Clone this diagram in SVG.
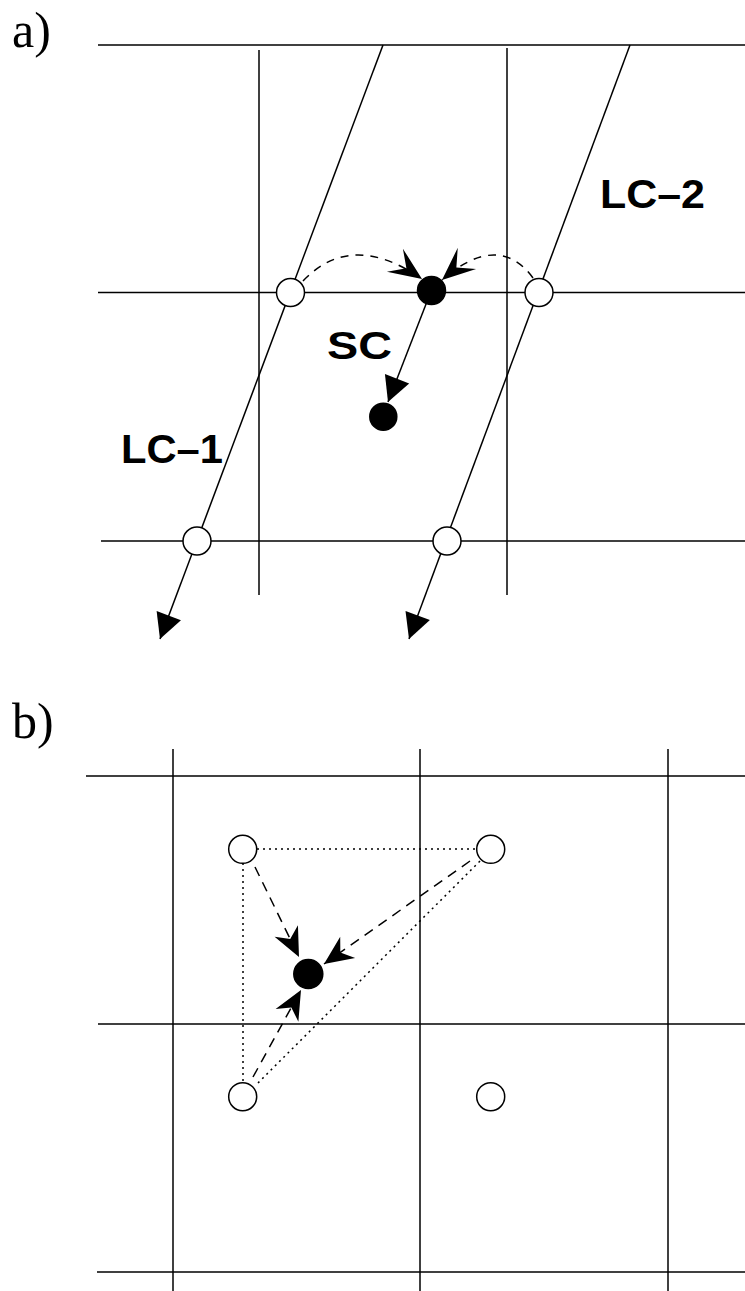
<svg xmlns="http://www.w3.org/2000/svg" width="745" height="1291" viewBox="0 0 745 1291">
<style>
.ln{stroke:#000;stroke-width:1.5;fill:none}
.dash{stroke:#000;stroke-width:1.5;fill:none;stroke-dasharray:8 7}
.dash2{stroke:#000;stroke-width:1.5;fill:none;stroke-dasharray:10 7}
.dot{stroke:#000;stroke-width:1.5;fill:none;stroke-dasharray:2 4}
.open{fill:#fff;stroke:#000;stroke-width:1.5}
.full{fill:#000;stroke:#000;stroke-width:1.5}
.lab{font-family:"Liberation Sans",Arial,sans-serif;font-weight:bold;fill:#000}
.part{font-family:"Liberation Serif","Times New Roman",serif;fill:#000;font-size:50px}
</style>
<defs>
<marker id="notchA" markerUnits="userSpaceOnUse" viewBox="-34 -15 35 30" markerWidth="35" markerHeight="30" refX="0" refY="0" orient="auto" overflow="visible">
<path d="M0,0 L-33,-14 L-19,0 L-33,14 Z" fill="#000"/>
</marker>
<marker id="notchB" markerUnits="userSpaceOnUse" viewBox="-31 -14 32 28" markerWidth="32" markerHeight="28" refX="0" refY="0" orient="auto" overflow="visible">
<path d="M0,0 L-29,-13 L-20,0 L-29,13 Z" fill="#000"/>
</marker>
<marker id="tri" markerUnits="userSpaceOnUse" viewBox="-27 -14 28 28" markerWidth="28" markerHeight="28" refX="0" refY="0" orient="auto" overflow="visible">
<path d="M0,0 L-25,-13 L-25,13 Z" fill="#000"/>
</marker>
</defs>

<g id="grid-a">
<line class="ln" x1="98" y1="45" x2="745" y2="45"/>
<line class="ln" x1="98" y1="292.5" x2="745" y2="292.5"/>
<line class="ln" x1="101" y1="541" x2="745" y2="541"/>
<line class="ln" x1="259" y1="50" x2="259" y2="595"/>
<line class="ln" x1="507" y1="48" x2="507" y2="595"/>
</g>

<g id="connectors">
<line class="ln" x1="383" y1="45" x2="160" y2="639" marker-end="url(#tri)"/>
<line class="ln" x1="630" y1="45" x2="409" y2="639" marker-end="url(#tri)"/>
<line class="ln" x1="431.5" y1="290" x2="388" y2="402" marker-end="url(#tri)"/>
<path class="dash" d="M303,281 Q351.5,230 422,279" marker-end="url(#notchA)"/>
<path class="dash" d="M533,278 Q498.5,231 442,280" marker-end="url(#notchA)"/>
<line class="dot" x1="257" y1="849" x2="477" y2="849"/>
<line class="dot" x1="243" y1="863" x2="243" y2="1082"/>
<line class="dot" x1="480" y1="861" x2="258" y2="1083"/>
<line class="dash2" x1="255" y1="867" x2="299" y2="957" marker-end="url(#notchB)"/>
<line class="dash2" x1="470" y1="861" x2="324" y2="964" marker-end="url(#notchB)"/>
<line class="dash2" x1="253" y1="1077" x2="301" y2="990" marker-end="url(#notchB)"/>
</g>

<g id="lc1-top"><circle class="open" cx="290.5" cy="292.5" r="14"/></g>
<g id="lc1-bottom"><circle class="open" cx="197" cy="541" r="14"/></g>
<g id="lc2-top"><circle class="open" cx="539" cy="292.5" r="14"/></g>
<g id="lc2-bottom"><circle class="open" cx="447" cy="541" r="14"/></g>
<g id="sc-start"><circle class="full" cx="431.5" cy="290.5" r="14"/></g>
<g id="sc-end"><circle class="full" cx="383.3" cy="416.7" r="13.5"/></g>

<g id="labels-a">
<text class="part" x="12" y="47">a)</text>
<text class="lab" x="600" y="208" font-size="40" textLength="105" lengthAdjust="spacingAndGlyphs">LC–2</text>
<text class="lab" x="327" y="359" font-size="39" textLength="65" lengthAdjust="spacingAndGlyphs">SC</text>
<text class="lab" x="121" y="463" font-size="40" textLength="102" lengthAdjust="spacingAndGlyphs">LC–1</text>
</g>

<g id="grid-b">
<text class="part" x="12" y="738">b)</text>
<line class="ln" x1="86" y1="776" x2="745" y2="776"/>
<line class="ln" x1="98" y1="1024" x2="745" y2="1024"/>
<line class="ln" x1="97" y1="1272" x2="745" y2="1272"/>
<line class="ln" x1="173" y1="749" x2="173" y2="1291"/>
<line class="ln" x1="420" y1="749" x2="420" y2="1291"/>
<line class="ln" x1="668" y1="749" x2="668" y2="1291"/>
</g>

<g id="b-tl"><circle class="open" cx="242.7" cy="849.3" r="14"/></g>
<g id="b-tr"><circle class="open" cx="490.7" cy="849.3" r="14"/></g>
<g id="b-bl"><circle class="open" cx="242.7" cy="1096.7" r="14"/></g>
<g id="b-br"><circle class="open" cx="490.7" cy="1096.7" r="14"/></g>
<g id="b-target"><circle class="full" cx="308.3" cy="974" r="14.5"/></g>
</svg>
